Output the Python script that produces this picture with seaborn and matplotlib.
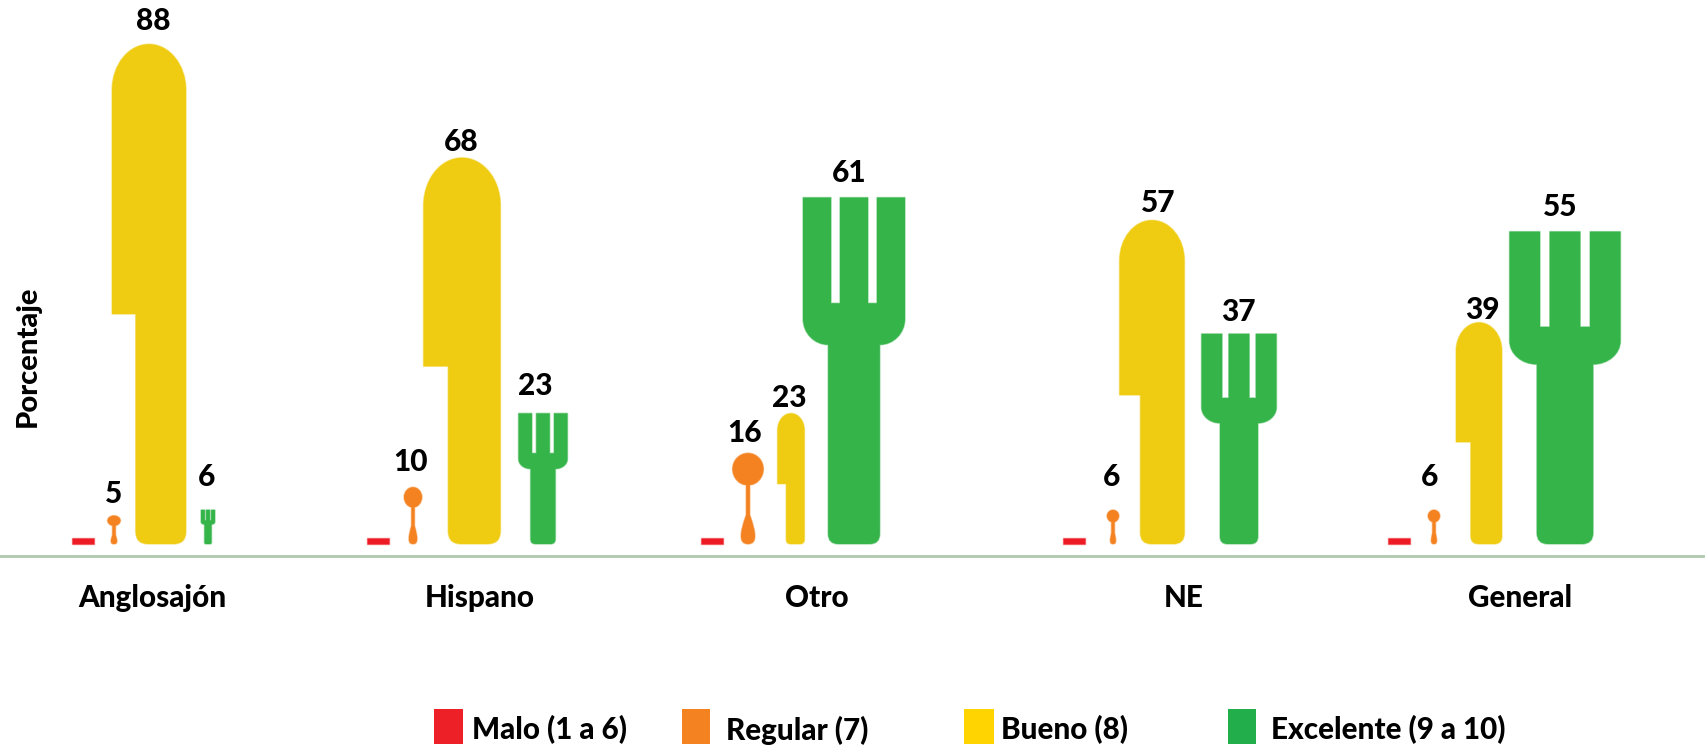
import matplotlib
matplotlib.use("Agg")
import pandas as pd
import seaborn as sns
from matplotlib import pyplot as plt
from matplotlib.patches import PathPatch, Rectangle
from matplotlib.path import Path
from matplotlib.colors import to_rgba

groups = ["Anglosajón", "Hispano", "Otro", "NE", "General"]
levels = ["Malo (1 a 6)", "Regular (7)", "Bueno (8)", "Excelente (9 a 10)"]

malo = [1, 1, 1, 1, 1]  # no printed label, thin dash in the picture
regular = [5, 10, 16, 6, 6]
bueno = [88, 68, 23, 57, 39]
excelente = [6, 23, 61, 37, 55]

group_x = [152, 480, 817, 1184, 1520]

# layout, in pixels of the 1706 wide figure
PX = 5.68  # pixels per percentage point
BASE = 544
AXIS = 556
ICON_X = {
    levels[0]: [83, 378, 712, 1074, 1399],
    levels[1]: [114, 413, 748, 1113, 1434],
    levels[2]: [149, 462, 791, 1152, 1479],
    levels[3]: [208, 543, 854, 1239, 1565],
}
ICON_W = {
    levels[0]: [22, 22, 22, 22, 22],
    levels[1]: [13, 18, 31, 12, 12],
    levels[2]: [74, 77, 27, 65, 46],
    levels[3]: [14, 49, 102, 75, 111],
}
LABEL_DX = {
    levels[1]: [0, -2, -3, -1, -4],
    levels[2]: [4, -1, -2, 6, 3],
    levels[3]: [-1, -8, -5, -1, -5],
}
LABEL_DY = {
    levels[1]: [22, 25, 20, 33, 33],
    levels[2]: [23, 16, 15, 17, 12],
    levels[3]: [33, 27, 25, 22, 25],
}
SWATCH = [(434, 463), (682, 710), (964, 994), (1228, 1256)]
LEGEND_TEXT_X = [472, 726, 1001, 1271]
BAR_COLORS = ["#ED1C24", "#F58220", "#EFCC12", "#35B44A"]
SWATCH_COLORS = ["#ED2027", "#F58220", "#FFD400", "#22AE4B"]
FONT_WEIGHT = "black"

M, L, C3, C4, Z = Path.MOVETO, Path.LINETO, Path.CURVE3, Path.CURVE4, Path.CLOSEPOLY
KAPPA = 0.5523


def knife_path(w, h):
    hl = 0.32 * w
    r = 0.25 * (w - hl)
    ry = 0.62 * w
    step = 0.46 * h
    left = -w / 2
    verts = [
        (left + hl + r, 0), (left + w - r, 0), (left + w, 0), (left + w, r), (left + w, h - ry),
        (left + w, h - ry + KAPPA * ry), (left + w / 2 + KAPPA * w / 2, h), (left + w / 2, h),
        (left + w / 2 - KAPPA * w / 2, h), (left, h - ry + KAPPA * ry), (left, h - ry),
        (left, step), (left + hl, step), (left + hl, r), (left + hl, 0), (left + hl + r, 0),
        (left + hl + r, 0),
    ]
    codes = [M, L, C3, C3, L, C4, C4, C4, C4, C4, C4, L, L, L, C3, C3, Z]
    return verts, codes


def fork_path(w, h):
    t = 0.275 * w
    hw = 0.2535 * w
    r = 0.1 * w
    neck = 0.575 * h
    shoulder = 0.65 * h
    slot = 0.695 * h
    over = w / 2 - hw
    rise = shoulder - neck
    verts = [
        (-hw + r, 0), (hw - r, 0), (hw, 0), (hw, r), (hw, neck),
        (hw + KAPPA * over, neck), (w / 2, neck + (1 - KAPPA) * rise), (w / 2, shoulder),
        (w / 2, h), (w / 2 - t, h), (w / 2 - t, slot),
        (t / 2, slot), (t / 2, h), (-t / 2, h), (-t / 2, slot), (-w / 2 + t, slot),
        (-w / 2 + t, h), (-w / 2, h), (-w / 2, shoulder),
        (-w / 2, neck + (1 - KAPPA) * rise), (-hw - KAPPA * over, neck), (-hw, neck),
        (-hw, r), (-hw, 0), (-hw + r, 0), (-hw + r, 0),
    ]
    codes = [M, L, C3, C3, L, C4, C4, C4, L, L, L, L, L, L, L, L, L, L, L, C4, C4, C4, L, C3, C3, Z]
    return verts, codes


def spoon_path(w, h):
    sw = max(1.6, 0.06 * w)
    ry = 0.175 * h
    mid = 0.825 * h
    flare = 0.32 * h
    foot = max(sw, 0.27 * w)
    verts = [
        (0, 0), (foot * 1.15, 0), (foot, 0.12 * h), (sw, flare), (sw, mid - ry),
        (KAPPA * w / 2, mid - ry), (w / 2, mid - KAPPA * ry), (w / 2, mid),
        (w / 2, mid + KAPPA * ry), (KAPPA * w / 2, h), (0, h),
        (-KAPPA * w / 2, h), (-w / 2, mid + KAPPA * ry), (-w / 2, mid),
        (-w / 2, mid - KAPPA * ry), (-KAPPA * w / 2, mid - ry), (-sw, mid - ry),
        (-sw, flare), (-foot, 0.12 * h), (-foot * 1.15, 0), (0, 0), (0, 0),
    ]
    codes = [M, C4, C4, C4, L, C4, C4, C4, C4, C4, C4, C4, C4, C4, C4, C4, C4, L, C4, C4, C4, Z]
    return verts, codes


def dash_path(w, h):
    verts = [(-w / 2, 0), (w / 2, 0), (w / 2, h), (-w / 2, h), (-w / 2, 0)]
    return verts, [M, L, L, L, Z]


SHAPES = {levels[0]: dash_path, levels[1]: spoon_path, levels[2]: knife_path, levels[3]: fork_path}


def add_icon(ax, level, cx, width, value, color):
    verts, codes = SHAPES[level](width, value * PX)
    data_verts = [(cx + u, v / PX) for u, v in verts]
    patch = PathPatch(
        Path(data_verts, codes),
        facecolor=color,
        edgecolor=to_rgba(color, 0.45),
        linewidth=1.0,
        zorder=3,
    )
    ax.add_patch(patch)


def main() -> None:
    sns.set_theme(style="white")
    plt.rcParams["font.family"] = ["Lato", "DejaVu Sans"]

    frames = []
    for level, values in zip(levels, [malo, regular, bueno, excelente], strict=True):
        frames.append(
            pd.DataFrame(
                {
                    "grupo": groups,
                    "nivel": level,
                    "valor": values,
                    "x": ICON_X[level],
                    "ancho": ICON_W[level],
                }
            )
        )
    data = pd.concat(frames, ignore_index=True)

    fig = plt.figure(figsize=(17.06, 7.45), dpi=100)
    ax = fig.add_axes([0, (745 - AXIS) / 745, 1, AXIS / 745])
    sns.barplot(
        data=data,
        x="x",
        y="valor",
        hue="nivel",
        hue_order=levels,
        palette=BAR_COLORS,
        native_scale=True,
        dodge=False,
        errorbar=None,
        legend=False,
        ax=ax,
    )

    # seaborn gives the bars, each one is swapped for its piece of cutlery
    for level, color, container in zip(levels, BAR_COLORS, ax.containers, strict=True):
        subset = data.loc[data["nivel"] == level]
        for bar, row in zip(container, subset.itertuples(), strict=True):
            bar.set_visible(False)
            add_icon(ax, level, row.x, row.ancho, bar.get_height(), color)

    for level in levels[1:]:
        subset = data.loc[data["nivel"] == level]
        for i, row in enumerate(subset.itertuples()):
            ax.annotate(
                str(row.valor),
                (row.x, row.valor),
                xytext=(LABEL_DX[level][i], LABEL_DY[level][i]),
                textcoords="offset pixels",
                ha="center",
                va="center",
                fontsize=21.5,
                fontweight=FONT_WEIGHT,
                color="black",
            )

    ax.set_xlim(0, 1706)
    ax.set_ylim(-(AXIS - BASE) / PX, BASE / PX)
    ax.set_xticks(group_x, groups, fontsize=21.3, fontweight=FONT_WEIGHT, color="black")
    ax.tick_params(axis="x", length=0, pad=20.5)
    ax.set_yticks([])
    ax.set_xlabel("")
    ax.set_ylabel("Porcentaje", fontsize=21, fontweight=FONT_WEIGHT, color="black")
    ax.yaxis.set_label_coords(41 / 1706, 0.36)
    sns.despine(ax=ax, left=True)
    ax.spines["bottom"].set_color("#B1C9AE")
    ax.spines["bottom"].set_linewidth(2)

    for level, color, (x0, x1), text_x in zip(levels, SWATCH_COLORS, SWATCH, LEGEND_TEXT_X, strict=True):
        fig.patches.append(
            Rectangle(
                (x0 / 1706, (745 - 744) / 745),
                (x1 - x0) / 1706,
                35 / 745,
                transform=fig.transFigure,
                facecolor=color,
                edgecolor="none",
            )
        )
        fig.text(
            text_x / 1706,
            (745 - 730) / 745,
            level,
            ha="left",
            va="center",
            fontsize=21.3,
            fontweight=FONT_WEIGHT,
            color="black",
        )

    fig.savefig("out.png", dpi=100)
    plt.close(fig)


if __name__ == "__main__":
    main()
